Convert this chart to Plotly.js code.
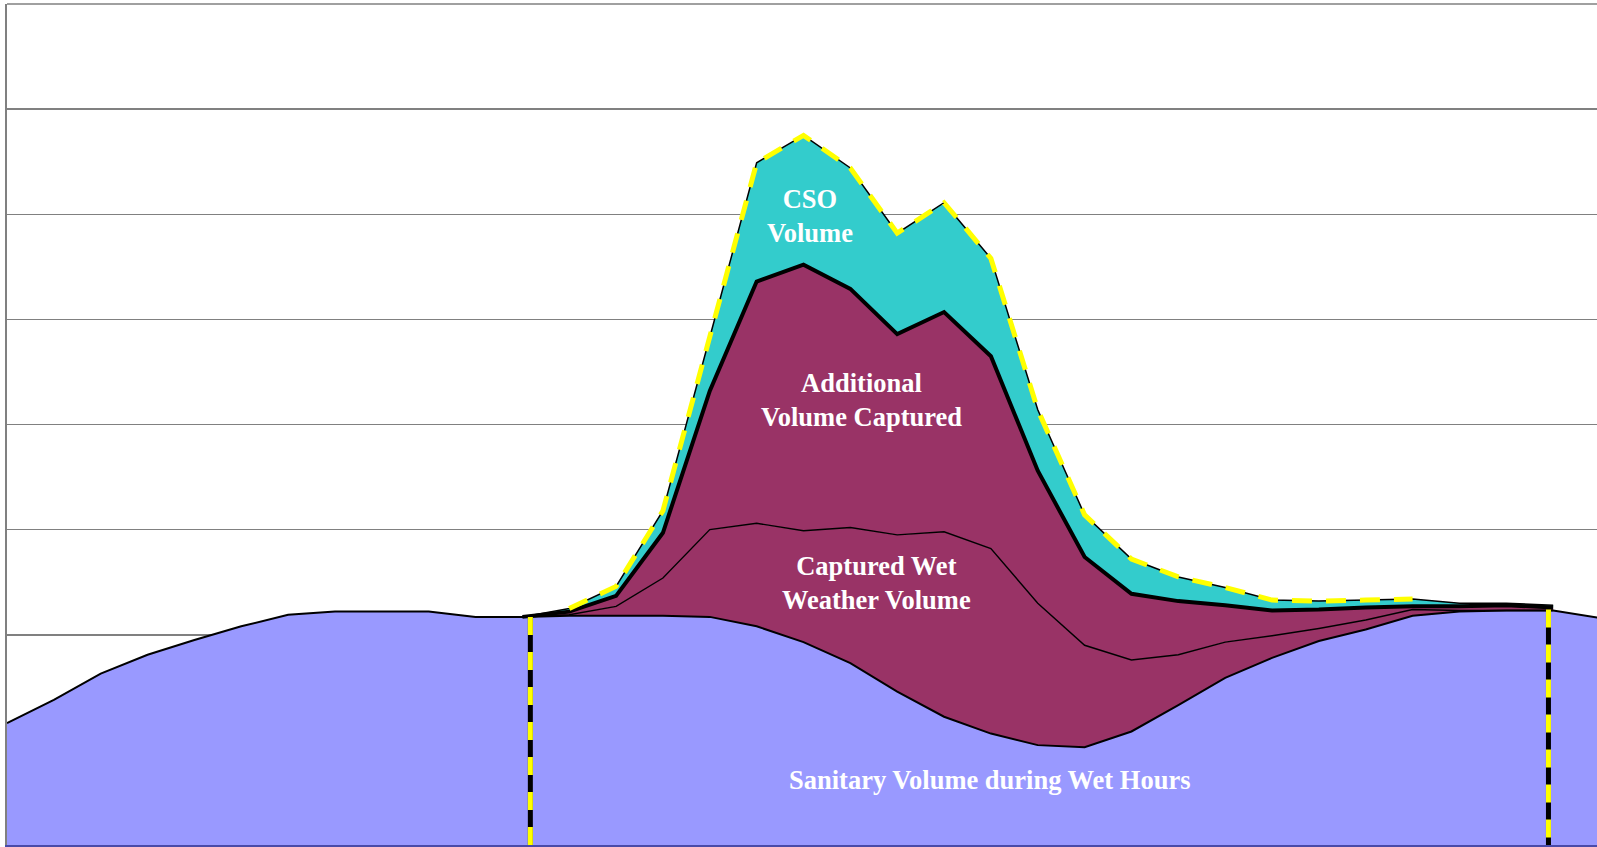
<!DOCTYPE html>
<html>
<head>
<meta charset="utf-8">
<script src="https://cdn.plot.ly/plotly-3.0.1.min.js"></script>
<style>
  html, body { margin: 0; padding: 0; background: #ffffff; overflow: hidden; }
  #chart { width: 1600px; height: 847px; }
</style>
</head>
<body>
<div id="chart"></div>
<script>
// ---- data (hourly steps) ----
const hour = [0,1,2,3,4,5,6,7,8,9,10,11,12,13,14,15,16,17,18,19,20,21,22,23,24,25,26,27,28,29,30,31,32,33,34];

const sanitary = [1.16,1.38,1.63,1.81,1.95,2.08,2.19,2.22,2.22,2.22,2.17,2.17,2.18,2.18,2.18,2.17,2.08,1.93,1.73,1.46,1.22,1.06,0.95,0.93,1.08,1.33,1.59,1.78,1.94,2.05,2.18,2.22,2.23,2.23,2.16];

const capturedWet = [0,0,0,0,0,0,0,0,0,0,0, 0,0.01,0.09,0.36,0.83,0.98,1.06,1.29,1.49,1.76,1.76,1.35,0.97,0.68,0.48,0.34,0.21,0.12,0.09,0.06,0.01,0,0,0];

const additionalCaptured = [0,0,0,0,0,0,0,0,0,0,0, 0,0.03,0.10,0.43,1.32,2.30,2.53,2.27,1.91,2.09,1.83,1.26,0.84,0.63,0.51,0.35,0.24,0.18,0.12,0.03,0.04,0.05,0.03,0];

const csoVolume = [0,0,0,0,0,0,0,0,0,0,0, 0,0.03,0.09,0.21,0.51,1.13,1.23,1.15,0.96,1.04,0.93,0.58,0.40,0.33,0.23,0.17,0.10,0.08,0.07,0.07,0.03,0.02,0.02,0];

// wet-weather period (start / end markers)
const wetMarkerX = [11.17, 32.9];
const wetMarkerTop = [2.17, 2.24];
const wetFrom = 11, wetTo = 33;        // wet-period hours (indices)
const overlayFrom = 12, overlayTo = 30; // yellow dashed CSO outline

const labels = ["CSO<br>Volume", "Additional<br>Volume Captured", "Captured Wet<br>Weather Volume", "Sanitary Volume during Wet Hours"];

// ---- cumulative stacks ----
const cum1 = sanitary.slice();
const cum2 = cum1.map((v, i) => v + capturedWet[i]);
const cum3 = cum2.map((v, i) => v + additionalCaptured[i]);
const cum4 = cum3.map((v, i) => v + csoVolume[i]);

const sl = (arr, a, b) => arr.slice(a, b + 1);
const wx = sl(hour, wetFrom, wetTo);

const BLUE = '#9999FF', PLUM = '#993366', TEAL = '#33CCCC';

const traces = [
  // fills
  {x: hour, y: cum1, mode: 'lines', fill: 'tozeroy', fillcolor: BLUE, line: {width: 0, color: BLUE}},
  {x: wx, y: sl(cum1, wetFrom, wetTo), mode: 'lines', line: {width: 0, color: BLUE}},
  {x: wx, y: sl(cum2, wetFrom, wetTo), mode: 'lines', fill: 'tonexty', fillcolor: PLUM, line: {width: 0, color: PLUM}},
  {x: wx, y: sl(cum3, wetFrom, wetTo), mode: 'lines', fill: 'tonexty', fillcolor: PLUM, line: {width: 0, color: PLUM}},
  {x: wx, y: sl(cum4, wetFrom, wetTo), mode: 'lines', fill: 'tonexty', fillcolor: TEAL, line: {width: 0, color: TEAL}},
  // outlines
  {x: hour, y: cum1, mode: 'lines', line: {width: 2, color: '#000000'}},
  {x: wx, y: sl(cum2, wetFrom, wetTo), mode: 'lines', line: {width: 1.4, color: '#000000'}},
  {x: wx, y: sl(cum4, wetFrom, wetTo), mode: 'lines', line: {width: 1.5, color: '#000000'}},
  {x: wx, y: sl(cum3, wetFrom, wetTo), mode: 'lines', line: {width: 4, color: '#000000'}},
  {x: sl(hour, overlayFrom, overlayTo), y: sl(cum4, overlayFrom, overlayTo), mode: 'lines', line: {width: 5, color: '#FFFF00', dash: '20px,14px'}},
];

// wet-period start/end markers
wetMarkerX.forEach((mx, i) => {
  traces.push({x: [mx, mx], y: [wetMarkerTop[i], 0], mode: 'lines', line: {width: 5, color: '#000000'}});
  traces.push({x: [mx, mx], y: [wetMarkerTop[i], 0], mode: 'lines', line: {width: 5, color: '#FFFF00', dash: '18px,17px'}});
});

const labelFont = {family: 'Liberation Serif, "Times New Roman", serif', size: 26.5, color: '#FFFFFF', weight: 'bold'};
const labelPos = [[17.14, 5.98], [18.23, 4.235], [18.56, 2.49], [20.98, 0.62]];

const layout = {
  width: 1600, height: 847,
  margin: {l: 7, r: 0, t: 4, b: 2},
  paper_bgcolor: '#FFFFFF', plot_bgcolor: '#FFFFFF',
  showlegend: false,
  xaxis: {range: [0, 34], showgrid: false, zeroline: false, showticklabels: false, ticks: '',
          showline: true, linecolor: '#4a4aa8', linewidth: 2},
  yaxis: {range: [0, 8], dtick: 1, tick0: 0, showgrid: true, gridcolor: '#808080', gridwidth: 1.5,
          zeroline: false, showticklabels: false, ticks: '',
          showline: true, linecolor: '#808080', linewidth: 2},
  annotations: labels.map((t, i) => ({
    text: t, x: labelPos[i][0], y: labelPos[i][1], xref: 'x', yref: 'y',
    showarrow: false, xanchor: 'center', yanchor: 'middle', align: 'center', font: labelFont
  })),
  shapes: [{type: 'line', xref: 'paper', yref: 'paper', x0: 0, x1: 1, y0: 1, y1: 1,
            line: {color: '#808080', width: 1.5}}]
};

Plotly.newPlot('chart', traces, layout, {staticPlot: true, displayModeBar: false});
</script>
</body>
</html>
